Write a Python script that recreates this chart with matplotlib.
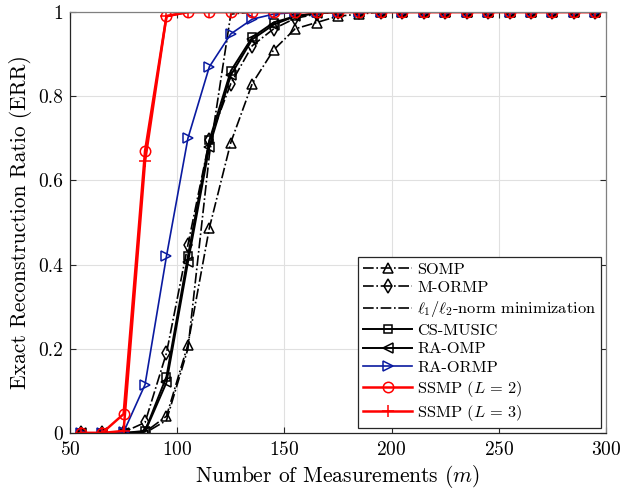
import matplotlib
matplotlib.use("Agg")
import matplotlib.pyplot as plt
import numpy as np

m = [55, 65, 75, 85, 95, 105, 115, 125, 135, 145, 155, 165, 175, 185, 195,
     205, 215, 225, 235, 245, 255, 265, 275, 285, 295]

somp = [0, 0, 0, 0.002, 0.04, 0.21, 0.487, 0.69, 0.83, 0.91, 0.96, 0.975, 0.99, 0.995, 1,
        1, 1, 1, 1, 1, 1, 1, 1, 1, 1]
mormp = [0, 0, 0.002, 0.025, 0.19, 0.447, 0.695, 0.83, 0.92, 0.96, 0.985, 0.995, 1, 1, 1,
         1, 1, 1, 1, 1, 1, 1, 1, 1, 1]
l1l2 = [0, 0, 0, 0, 0.03, 0.2, 0.66, 0.995, 1, 1, 1, 1, 1, 1, 1,
        1, 1, 1, 1, 1, 1, 1, 1, 1, 1]
csmusic = [0, 0, 0, 0.005, 0.134, 0.42, 0.695, 0.86, 0.94, 0.975, 0.99, 0.997, 1, 1, 1,
           1, 1, 1, 1, 1, 1, 1, 1, 1, 1]
raomp = [0, 0, 0, 0.003, 0.12, 0.405, 0.68, 0.85, 0.935, 0.97, 0.99, 0.997, 1, 1, 1,
         1, 1, 1, 1, 1, 1, 1, 1, 1, 1]
raormp = [0, 0, 0.002, 0.115, 0.42, 0.70, 0.87, 0.948, 0.983, 0.995, 0.999, 1, 1, 1, 1,
          1, 1, 1, 1, 1, 1, 1, 1, 1, 1]
ssmp2 = [0, 0, 0.045, 0.67, 0.99, 1, 1, 1, 1, 1, 1, 1, 1, 1, 1,
         1, 1, 1, 1, 1, 1, 1, 1, 1, 1]
ssmp3 = [0, 0, 0.005, 0.645, 0.99, 1, 1, 1, 1, 1, 1, 1, 1, 1, 1,
         1, 1, 1, 1, 1, 1, 1, 1, 1, 1]

xticks = [50, 100, 150, 200, 250, 300]
yticks = [0, 0.2, 0.4, 0.6, 0.8, 1]
ytick_labels = ["0", "0.2", "0.4", "0.6", "0.8", "1"]

plt.rcParams['font.family'] = ['cmr10', 'DejaVu Serif']
plt.rcParams['mathtext.fontset'] = 'cm'
plt.rcParams['axes.formatter.use_mathtext'] = True

fig = plt.figure(figsize=(6.23, 4.93), dpi=100)
ax = fig.add_axes([70/623, 1-433/493, (606-70)/623, (433-12)/493])

blue = '#0a1aa0'
ms = 7.5
ax.plot(m, somp, color='k', ls='-.', lw=1.2, marker='^', ms=ms, mfc='none', mew=1.1, label='SOMP')
ax.plot(m, mormp, color='k', ls='-.', lw=1.2, marker='d', ms=ms, mfc='none', mew=1.1, label='M-ORMP')
ax.plot(m, l1l2, color='k', ls='-.', lw=1.2, label=r'$\ell_1/\ell_2$-norm minimization')
ax.plot(m, csmusic, color='k', ls='-', lw=1.4, marker='s', ms=6, mfc='none', mew=1.1, label='CS-MUSIC')
ax.plot(m, raomp, color='k', ls='-', lw=1.4, marker='<', ms=ms, mfc='none', mew=1.1, label='RA-OMP')
ax.plot(m, raormp, color=blue, ls='-', lw=1.2, marker='>', ms=ms, mfc='none', mew=1.1, label='RA-ORMP')
ax.plot(m, ssmp2, color='red', ls='-', lw=1.8, marker='o', ms=ms, mfc='none', mew=1.1, label=r'SSMP ($L\,=\,2$)')
ax.plot(m, ssmp3, color='red', ls='-', lw=1.8, marker='+', ms=ms+1, mew=1.1, label=r'SSMP ($L\,=\,3$)')

ax.set_xlim(50, 300)
ax.set_ylim(0, 1)
ax.set_xticks(xticks)
ax.set_yticks(yticks)
ax.set_yticklabels(ytick_labels)
ax.tick_params(direction='in', labelsize=14, length=4, color='0.15', top=True, right=True)
ax.tick_params(axis='x', pad=6)
ax.tick_params(axis='y', pad=5)
ax.grid(True, color='0.88', lw=0.8)
ax.set_axisbelow(True)
for s in ax.spines.values():
    s.set_color('0.15')
    s.set_linewidth(0.9)
for s in ['top', 'right']:
    ax.spines[s].set_color('0.5')

ax.set_xlabel(r'Number of Measurements ($m$)', fontsize=15.5, labelpad=3)
ax.set_ylabel('Exact Reconstruction Ratio (ERR)', fontsize=15.5, labelpad=4)

leg = ax.legend(loc='lower right', fontsize=11.8, frameon=True, fancybox=False,
                edgecolor='0.15', framealpha=1, borderaxespad=0.3, handlelength=3.0,
                handletextpad=0.3, labelspacing=0.25, borderpad=0.3)
leg.get_frame().set_linewidth(0.9)

fig.savefig('out.png', dpi=100)
